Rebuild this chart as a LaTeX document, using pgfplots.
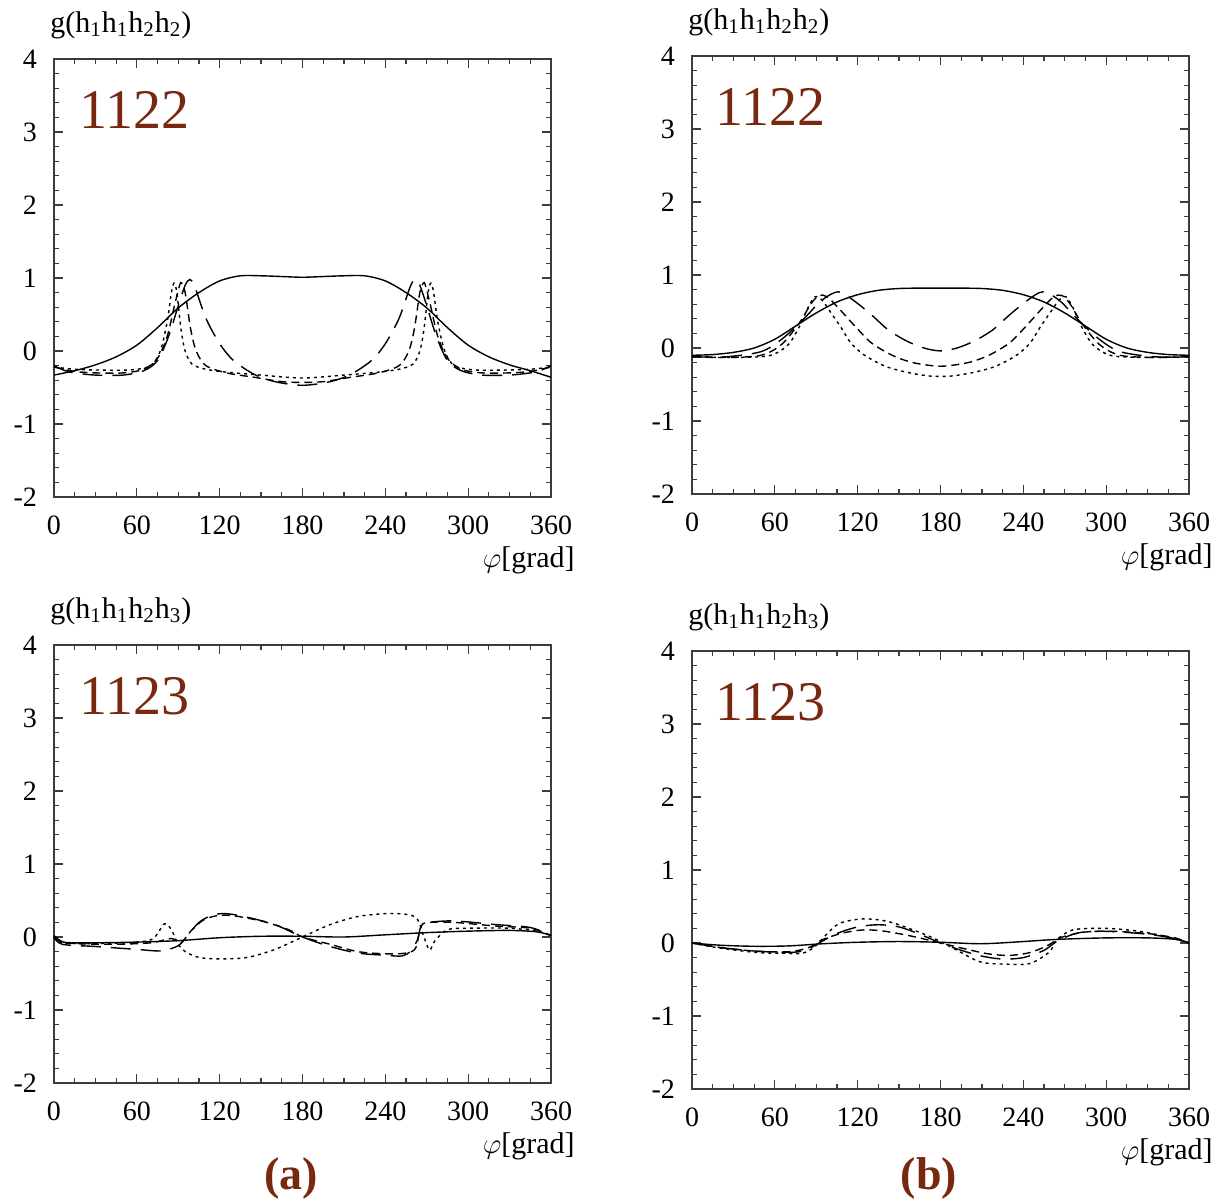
\documentclass[border=0pt]{standalone}
\usepackage{fontspec}
\setmainfont{Liberation Serif}
\usepackage{pgfplots}
\pgfplotsset{compat=1.18}
\definecolor{brn}{RGB}{120,40,15}
\definecolor{axg}{RGB}{60,60,60}
\pgfplotsset{
  panel/.style={
    scale only axis, width=248.5pt, height=219pt,
    xmin=0, xmax=360, ymin=-2, ymax=4,
    xtick={0,60,...,360}, ytick={-2,-1,0,1,2,3,4},
    minor x tick num=3, minor y tick num=4,
    tick align=inside, major tick length=4.5pt, minor tick length=2.5pt,
    axis line style={axg, line width=0.8pt},
    tick style={axg, line width=0.6pt},
    /pgf/number format/assume math mode=true,
    ticklabel style={font=\fontsize{14}{16}\selectfont},
    yticklabel style={xshift=-5pt},
    xticklabel style={yshift=-6pt},
    clip=false,
  },
  S/.style={black, line width=0.7pt, smooth},
  LD/.style={black, line width=0.7pt, dash pattern=on 10pt off 5pt, smooth},
  MD/.style={black, line width=0.7pt, dash pattern=on 4pt off 2.5pt, smooth},
  SD/.style={black, line width=0.7pt, dash pattern=on 1.5pt off 2pt, smooth},
}
\newcommand{\glabel}[1]{\node[anchor=west, inner sep=0pt, font=\fontsize{15}{17}\selectfont] at ([xshift=-2pt,yshift=17pt]rel axis cs:0,1) {#1};}
\newcommand{\philabel}{\node[anchor=east, inner sep=0pt, font=\fontsize{15}{17}\selectfont] at ([xshift=12pt,yshift=-31.5pt]rel axis cs:1,0) {$\varphi$[grad]};}
\begin{document}
\begin{tikzpicture}
\useasboundingbox (0pt,0pt) rectangle (608.5pt,599.5pt);
% ---------------- top left
\begin{axis}[panel, at={(27pt,351pt)}, anchor=south west]
\addplot[S] coordinates {(0,-0.33)(15,-0.27)(30,-0.19)(45,-0.08)(60,0.08)(75,0.32)(90,0.59)(105,0.8)(120,0.96)(135,1.03)(150,1.03)(165,1.02)(180,1.01)(195,1.02)(210,1.03)(225,1.03)(240,0.96)(255,0.8)(270,0.59)(285,0.32)(300,0.08)(315,-0.08)(330,-0.19)(345,-0.27)(360,-0.36)};
\addplot[LD] coordinates {(0,-0.2)(8,-0.27)(15,-0.3)(30,-0.33)(50,-0.33)(65,-0.27)(75,-0.13)(83,0.2)(90,0.62)(95,0.9)(98.5,0.98)(102,0.88)(110,0.45)(120,0.1)(130,-0.13)(145,-0.32)(160,-0.42)(180,-0.47)(200,-0.42)(215,-0.32)(230,-0.13)(240,0.1)(250,0.45)(258,0.88)(261.5,0.98)(265,0.9)(270,0.62)(277,0.2)(285,-0.13)(295,-0.27)(310,-0.33)(330,-0.33)(345,-0.3)(352,-0.27)(360,-0.2)};
\addplot[MD] coordinates {(0,-0.22)(15,-0.28)(30,-0.3)(50,-0.3)(65,-0.25)(75,-0.1)(82,0.2)(87,0.6)(91,0.9)(92.5,0.93)(95,0.8)(99,0.3)(103,0.0)(110,-0.2)(125,-0.3)(145,-0.36)(165,-0.42)(180,-0.43)(195,-0.42)(215,-0.36)(235,-0.3)(250,-0.2)(257,0.0)(261,0.3)(265,0.8)(267.5,0.93)(269,0.9)(273,0.6)(278,0.2)(285,-0.1)(295,-0.25)(310,-0.3)(330,-0.3)(345,-0.28)(360,-0.22)};
\addplot[SD] coordinates {(0,-0.22)(15,-0.25)(30,-0.26)(55,-0.26)(70,-0.2)(77,0.0)(82,0.4)(85,0.8)(87,0.93)(89,0.8)(92,0.3)(95,0.0)(100,-0.18)(110,-0.25)(125,-0.29)(150,-0.33)(180,-0.37)(210,-0.33)(235,-0.29)(250,-0.25)(260,-0.18)(265,0.0)(268,0.3)(271,0.8)(273,0.93)(275,0.8)(278,0.4)(283,0.0)(290,-0.2)(305,-0.26)(330,-0.26)(345,-0.25)(360,-0.22)};
\node[anchor=west, inner sep=0pt, text=brn, font=\fontsize{28}{30}\selectfont] at (axis cs:18.5,3.3) {1122};
\glabel{g(h\textsubscript{1}h\textsubscript{1}h\textsubscript{2}h\textsubscript{2})}
\philabel
\end{axis}
% ---------------- top right
\begin{axis}[panel, at={(346pt,352.5pt)}, anchor=south west]
\addplot[S] coordinates {(0,-0.1)(15,-0.09)(30,-0.06)(45,0.0)(60,0.12)(75,0.3)(90,0.48)(105,0.63)(120,0.73)(135,0.79)(150,0.815)(165,0.82)(180,0.82)(195,0.82)(210,0.815)(225,0.79)(240,0.73)(255,0.63)(270,0.48)(285,0.3)(300,0.12)(315,0.0)(330,-0.06)(345,-0.09)(360,-0.1)};
\addplot[LD] coordinates {(0,-0.12)(25,-0.12)(50,-0.05)(65,0.12)(80,0.38)(92,0.62)(100,0.73)(106,0.77)(112,0.72)(122,0.58)(132,0.42)(142,0.25)(155,0.1)(168,0.0)(180,-0.04)(192,0.0)(205,0.1)(218,0.25)(228,0.42)(238,0.58)(248,0.72)(254,0.77)(260,0.73)(268,0.62)(280,0.38)(295,0.12)(310,-0.05)(335,-0.12)(360,-0.12)};
\addplot[MD] coordinates {(0,-0.12)(25,-0.13)(50,-0.1)(65,0.05)(78,0.35)(86,0.6)(92,0.72)(98,0.7)(106,0.55)(118,0.3)(130,0.07)(145,-0.1)(160,-0.2)(180,-0.25)(200,-0.2)(215,-0.1)(230,0.07)(242,0.3)(254,0.55)(262,0.7)(268,0.72)(274,0.6)(282,0.35)(295,0.05)(310,-0.1)(335,-0.13)(360,-0.12)};
\addplot[SD] coordinates {(0,-0.12)(25,-0.13)(50,-0.12)(60,-0.08)(70,0.05)(78,0.3)(84,0.55)(89,0.7)(94,0.66)(100,0.5)(108,0.28)(115,0.07)(125,-0.1)(140,-0.25)(155,-0.33)(170,-0.38)(180,-0.39)(190,-0.38)(205,-0.33)(220,-0.25)(235,-0.1)(245,0.07)(252,0.28)(260,0.5)(266,0.66)(271,0.7)(276,0.55)(282,0.3)(290,0.05)(300,-0.08)(310,-0.12)(335,-0.13)(360,-0.12)};
\node[anchor=west, inner sep=0pt, text=brn, font=\fontsize{28}{30}\selectfont] at (axis cs:16.5,3.3) {1122};
\glabel{g(h\textsubscript{1}h\textsubscript{1}h\textsubscript{2}h\textsubscript{2})}
\philabel
\end{axis}
% ---------------- bottom left
\begin{axis}[panel, at={(27pt,58pt)}, anchor=south west]
\addplot[S] coordinates {(0,0.02)(3,-0.03)(7,-0.07)(15,-0.08)(30,-0.08)(60,-0.07)(90,-0.05)(120,-0.01)(150,0.01)(180,0.01)(210,0.0)(240,0.03)(270,0.06)(300,0.08)(330,0.09)(350,0.07)(360,0.02)};
\addplot[LD] coordinates {(0,0.0)(6,-0.1)(30,-0.13)(60,-0.17)(78,-0.19)(90,-0.12)(95,-0.02)(105,0.2)(115,0.3)(125,0.32)(140,0.27)(160,0.17)(180,0.0)(200,-0.13)(220,-0.22)(240,-0.25)(252,-0.26)(258,-0.2)(263,-0.05)(266,0.15)(272,0.2)(290,0.22)(320,0.17)(345,0.13)(360,0.02)};
\addplot[MD] coordinates {(0,0.0)(8,-0.08)(40,-0.1)(70,-0.08)(85,-0.02)(92,-0.08)(100,0.1)(110,0.25)(125,0.3)(150,0.22)(170,0.1)(180,0.0)(200,-0.1)(220,-0.2)(240,-0.23)(255,-0.22)(262,-0.15)(266,0.15)(272,0.2)(290,0.2)(320,0.15)(345,0.12)(360,0.02)};
\addplot[SD] coordinates {(0,0.0)(6,-0.08)(30,-0.09)(60,-0.07)(72,-0.02)(80,0.18)(85,0.1)(90,-0.1)(95,-0.2)(105,-0.28)(120,-0.3)(140,-0.28)(160,-0.17)(180,0.0)(200,0.17)(220,0.28)(240,0.32)(255,0.31)(263,0.25)(268,0.0)(272,-0.18)(276,-0.05)(285,0.1)(300,0.12)(330,0.12)(350,0.08)(360,0.02)};
\node[anchor=west, inner sep=0pt, text=brn, font=\fontsize{28}{30}\selectfont] at (axis cs:18,3.3) {1123};
\glabel{g(h\textsubscript{1}h\textsubscript{1}h\textsubscript{2}h\textsubscript{3})}
\philabel
\end{axis}
% ---------------- bottom right
\begin{axis}[panel, at={(346pt,55pt)}, anchor=south west]
\addplot[S] coordinates {(0,0.0)(20,-0.03)(45,-0.045)(70,-0.04)(95,-0.01)(120,0.01)(150,0.02)(180,0.01)(210,-0.01)(240,0.02)(265,0.05)(300,0.07)(330,0.07)(350,0.05)(360,0.0)};
\addplot[LD] coordinates {(0,0)(20,-0.06)(45,-0.11)(70,-0.13)(82,-0.1)(92,0.0)(105,0.13)(120,0.22)(135,0.25)(150,0.22)(165,0.12)(180,0.0)(195,-0.1)(210,-0.18)(225,-0.22)(240,-0.2)(255,-0.1)(265,0.03)(280,0.14)(300,0.16)(330,0.12)(350,0.06)(360,0.0)};
\addplot[MD] coordinates {(0,0)(20,-0.06)(45,-0.11)(70,-0.12)(85,-0.06)(95,0.05)(110,0.14)(125,0.18)(140,0.16)(160,0.09)(180,0.0)(200,-0.09)(215,-0.15)(230,-0.17)(245,-0.13)(258,-0.03)(268,0.08)(285,0.15)(305,0.16)(330,0.13)(350,0.07)(360,0.0)};
\addplot[SD] coordinates {(0,0)(20,-0.07)(47,-0.13)(65,-0.14)(80,-0.14)(89,-0.05)(97,0.11)(107,0.27)(124,0.33)(143,0.29)(167,0.13)(180,0.02)(192,-0.1)(209,-0.26)(228,-0.29)(245,-0.28)(259,-0.12)(264,0.04)(276,0.18)(300,0.2)(324,0.16)(345,0.08)(360,0)};
\node[anchor=west, inner sep=0pt, text=brn, font=\fontsize{28}{30}\selectfont] at (axis cs:16.5,3.3) {1123};
\glabel{g(h\textsubscript{1}h\textsubscript{1}h\textsubscript{2}h\textsubscript{3})}
\philabel
\end{axis}
\node[text=brn, font=\fontsize{23}{25}\selectfont\bfseries] at (145.5pt,10.5pt) {(a)};
\node[text=brn, font=\fontsize{23}{25}\selectfont\bfseries] at (464.5pt,10.5pt) {(b)};
\end{tikzpicture}
\end{document}
